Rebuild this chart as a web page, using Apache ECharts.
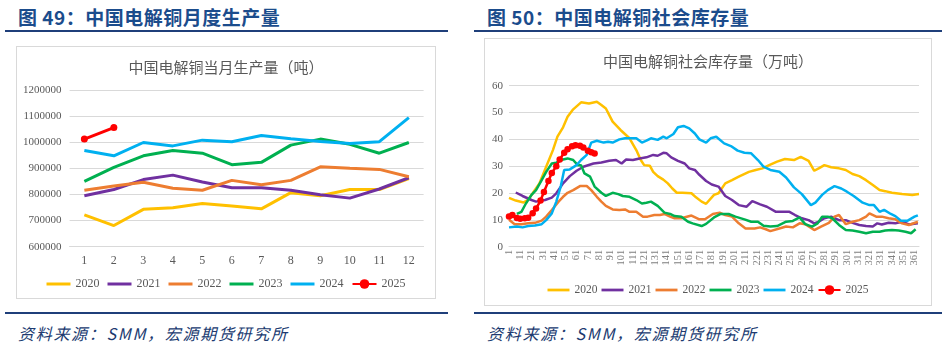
<!DOCTYPE html>
<html><head><meta charset="utf-8">
<script src="https://cdn.jsdelivr.net/npm/echarts@6/dist/echarts.min.js"></script>
<style>
html,body{margin:0;padding:0;background:#fff;width:948px;height:345px;overflow:hidden;position:relative;}
.hdr{position:absolute;top:3px;font-family:"Noto Sans CJK SC";font-weight:bold;font-size:19px;letter-spacing:0.5px;color:#1B4C8C;white-space:nowrap;}
.rule{position:absolute;height:2px;background:#1F3F7A;}
.src{position:absolute;top:321px;font-family:"Noto Sans CJK SC";font-style:italic;font-size:16px;color:#203A70;white-space:nowrap;letter-spacing:1.7px;}
.box{position:absolute;border:1px solid #D9D9D9;}
</style>
</head><body>
<div class="hdr" style="left:18px;">图 49：中国电解铜月度生产量</div>
<div class="hdr" style="left:487px;">图 50：中国电解铜社会库存量</div>
<div class="rule" style="left:5px;width:443px;top:30px;"></div>
<div class="rule" style="left:474px;width:468px;top:30px;"></div>
<div class="rule" style="left:5px;width:443px;top:312px;"></div>
<div class="rule" style="left:474px;width:468px;top:312px;"></div>
<div class="src" style="left:18px;">资料来源：SMM，宏源期货研究所</div>
<div class="src" style="left:487px;">资料来源：SMM，宏源期货研究所</div>
<div id="c1" class="box" style="left:16px;top:46px;width:418px;height:251px;"></div>
<div id="c2" class="box" style="left:484px;top:38px;width:446px;height:266px;"></div>
<script>
// ---------- Chart 1 data: monthly output (tonnes) ----------
const months = ['1','2','3','4','5','6','7','8','9','10','11','12'];
const out2020 = [722000,681000,743000,749000,765000,756000,745000,807000,795000,819000,819000,861000];
const out2021 = [795000,819000,857000,874000,848000,826000,826000,816000,799000,786000,821000,864000];
const out2022 = [816000,832000,847000,824000,816000,854000,837000,854000,906000,900000,896000,868000];
const out2023 = [850000,904000,948000,968000,958000,914000,923000,989000,1012000,992000,958000,999000];
const out2024 = [968000,948000,999000,986000,1008000,1002000,1026000,1013000,1003000,995000,1002000,1094000];
const out2025 = [1012000,1056000];
const yearNames = ['2020','2021','2022','2023','2024','2025'];
const yearColors = ['#FFC000','#7030A0','#ED7D31','#00B050','#00B0F0','#FF0000'];

// ---------- Chart 2 data: social inventory (10k tonnes), [day, value] ----------
const dayLabels = Array.from({length:365}, (_, i) => String(i + 1));
const inv2020 = [[1,18.2],[7,17.2],[14,16.5],[18,17.5],[22,19.9],[28,23.6],[34,29.8],[40,36],[44,41],[49,44.5],[53,48.4],[58,51.2],[65,53.8],[72,53.4],[79,54],[83,52.8],[87,51.5],[93,46.6],[100,43.5],[108,40.4],[114,36],[118,32.3],[121,30.4],[126,30.2],[129,27.9],[133,26.3],[138,25],[142,23.6],[146,21.7],[150,20.1],[155,20.1],[163,19.9],[167,18.4],[172,16.8],[176,16.0],[183,19.3],[187,19.9],[193,23.6],[199,24.8],[205,26.1],[214,27.9],[220,28.6],[226,29.2],[232,30.4],[239,31.7],[246,32.7],[254,32.3],[260,33.5],[267,32],[272,28.3],[276,29.2],[281,30.4],[287,29.6],[294,29.2],[300,28.6],[306,27.1],[312,26.3],[318,24.8],[324,23],[330,21.1],[335,20.7],[341,20.1],[350,19.6],[359,19.3],[365,19.6]];
const inv2021 = [[7,20.2],[13,18.9],[21,17.4],[25,16.8],[33,17.4],[39,18.3],[43,19.9],[49,23.6],[55,26.3],[61,28.3],[67,29.8],[76,31],[83,31.4],[90,32],[96,32.3],[101,31],[105,32.5],[111,32.3],[117,32.9],[123,33.3],[129,34.2],[133,33.9],[138,35],[141,34.8],[145,33.3],[151,32],[157,31],[161,29.2],[166,28.6],[170,26.8],[176,24.5],[181,23.2],[187,22.4],[193,18.9],[199,17.4],[205,15.5],[212,14.9],[217,17],[224,15.8],[230,14.9],[238,13],[244,13],[250,13],[255,11.8],[261,10.6],[267,9.9],[272,8.7],[276,9.3],[281,10.6],[287,11.2],[294,9.9],[300,9.9],[306,8.9],[312,8.1],[318,7.7],[324,7.5],[328,8.7],[332,8.3],[338,8.9],[344,8.7],[350,9.3],[356,8.3],[364,8.7]];
const inv2022 = [[1,10],[6,8.4],[12,8.4],[18,8.7],[24,8.9],[30,9.7],[34,11.2],[39,13.7],[45,16.8],[49,18.6],[53,20.1],[58,21.1],[64,22.6],[70,22.6],[74,21.1],[79,18.6],[83,16.8],[87,15.2],[93,13.9],[99,13.7],[104,13.9],[108,13],[114,13],[120,11.2],[124,11.2],[130,11.8],[135,11.8],[139,12.2],[144,11.2],[148,10.6],[154,10.6],[163,11.6],[170,10.2],[175,10.2],[182,12.2],[188,12.7],[193,11.8],[199,11.2],[205,8.7],[211,6.8],[219,6.8],[224,7.2],[229,6.5],[233,5.8],[241,6.8],[247,7.5],[253,7.2],[259,8.7],[264,8.4],[272,6.2],[278,7.5],[285,8.9],[290,11.2],[294,11.8],[300,8.4],[306,9.3],[312,9.9],[318,11.2],[321,12.4],[327,11.2],[332,11.2],[338,10.6],[344,10.2],[350,8.7],[356,8.1],[364,9.3]];
const inv2023 = [[8,12.2],[12,13],[16,16.1],[21,19.3],[25,21.1],[30,24.8],[34,27.9],[39,31],[43,31.3],[49,32.5],[53,32.9],[58,32.3],[62,30.4],[65,30.4],[68,27.3],[73,26.1],[77,22.4],[83,20.1],[87,18.9],[93,20.1],[98,19.6],[102,18.9],[108,18.6],[114,17.4],[119,16.1],[123,16.4],[127,16.8],[133,15.2],[139,12.7],[144,12.2],[148,11.4],[154,11.2],[160,9.3],[164,8.7],[172,7.7],[176,8.5],[183,10.9],[189,12.2],[196,12.2],[202,11.2],[210,10.2],[216,9.3],[222,9.3],[227,7.8],[233,7.5],[239,7.7],[247,9.3],[253,9.6],[259,10.9],[264,8.4],[270,7.5],[275,8.7],[279,11.2],[284,11.2],[288,10.6],[294,8.1],[300,6.2],[306,6],[312,5.6],[318,5],[324,5.6],[330,5.6],[335,6],[341,6.2],[347,6],[353,5.6],[358,5],[362,6.5]];
const inv2024 = [[1,7.2],[8,7.5],[13,7.2],[18,7.7],[24,7.9],[30,8.4],[34,9.9],[39,12.4],[43,16.8],[47,22.6],[50,28.6],[55,28.8],[61,30.4],[65,32.3],[70,34.2],[74,38.8],[79,39.5],[85,38.8],[89,39.1],[93,38.8],[99,40],[104,40.4],[108,40.4],[114,40.4],[119,38.8],[123,39.5],[127,40.4],[133,39.8],[138,41],[141,40.4],[147,42],[151,44.5],[156,45],[161,44.1],[166,42.2],[170,40],[176,38.8],[180,40.4],[185,41],[192,38.5],[198,37.5],[204,35.8],[210,35],[216,34.8],[222,32.3],[227,29.8],[233,28.6],[241,27.9],[247,25.8],[254,22.1],[261,19.6],[269,15.5],[273,16.4],[279,19.3],[284,21.1],[290,22.6],[296,21.7],[301,20.5],[307,18.9],[315,16.4],[321,15.5],[325,15.5],[330,13],[334,13.7],[340,12.2],[344,11.4],[349,9.7],[355,9.7],[361,11.2],[364,11.7]];
const inv2025 = [[1,11.3],[4,11.8],[8,10.7],[11,10.4],[15,10.6],[18,10.8],[22,12.5],[25,14.2],[29,17.2],[32,20.4],[36,24.5],[39,27.5],[43,30],[46,32.5],[50,35],[53,36.3],[57,37.4],[60,37.8],[64,37.6],[67,37],[71,35.8],[74,35.2],[77,34.7]];

const serif = 'Liberation Serif';
const labelGray = '#595959';
const gridGray = '#D9D9D9';
const barIcon = 'path://M0,0H24V3H0Z';

function legendItems() {
  return yearNames.map((n, i) => i === 5 ? {name:n} : {name:n, icon:barIcon});
}

// ---------- Chart 1 ----------
const c1 = echarts.init(document.getElementById('c1'), null, {renderer:'canvas'});
const outSeries = [out2020,out2021,out2022,out2023,out2024,out2025];
c1.setOption({
  animation:false,
  title:{text:'中国电解铜当月生产量（吨）', left:'center', top:8,
    textStyle:{fontFamily:'Noto Sans CJK SC', fontSize:15, fontWeight:'normal', color:'#595959'}},
  legend:{data:legendItems(), left:'center', top:226, itemWidth:24, itemHeight:12, itemGap:8,
    textStyle:{fontFamily:serif, fontSize:12, color:labelGray}},
  grid:{left:52.6, right:11.4, top:43, bottom:51.3},
  xAxis:{type:'category', data:months, boundaryGap:true,
    axisLine:{lineStyle:{color:gridGray}}, axisTick:{show:false},
    axisLabel:{fontFamily:serif, fontSize:12, color:labelGray, margin:8}},
  yAxis:{type:'value', min:600000, max:1200000, interval:100000,
    axisLine:{show:false}, axisTick:{show:false},
    splitLine:{lineStyle:{color:gridGray, width:1}},
    axisLabel:{fontFamily:serif, fontSize:11, color:labelGray, margin:8, formatter:v=>String(v)}},
  series: outSeries.map((d,i)=>({
    name:yearNames[i], type:'line', data:d,
    symbol: i===5 ? 'circle' : 'none', symbolSize:7, showSymbol: i===5,
    lineStyle:{width:3, color:yearColors[i]}, itemStyle:{color:yearColors[i]}
  }))
});

// ---------- Chart 2 ----------
const c2 = echarts.init(document.getElementById('c2'), null, {renderer:'canvas'});
const invSeries = [inv2020,inv2021,inv2022,inv2023,inv2024,inv2025];
c2.setOption({
  animation:false,
  title:{text:'中国电解铜社会库存量（万吨）', left:'center', top:10,
    textStyle:{fontFamily:'Noto Sans CJK SC', fontSize:15, fontWeight:'normal', color:'#595959'}},
  legend:{data:legendItems(), left:'center', top:240, itemWidth:22, itemHeight:12, itemGap:4,
    textStyle:{fontFamily:serif, fontSize:11.5, color:labelGray}},
  grid:{left:24, right:12, top:46.7, bottom:58.3},
  xAxis:{type:'category', data:dayLabels, boundaryGap:false,
    axisLine:{lineStyle:{color:gridGray}}, axisTick:{show:false},
    axisLabel:{fontFamily:serif, fontSize:10.5, color:'#7F7F7F', rotate:90, interval:9, margin:3}},
  yAxis:{type:'value', min:0, max:60, interval:10,
    axisLine:{show:false}, axisTick:{show:false},
    splitLine:{lineStyle:{color:gridGray, width:1}},
    axisLabel:{fontFamily:serif, fontSize:11, color:labelGray, margin:6}},
  series: invSeries.map((d,i)=>({
    name:yearNames[i], type:'line', data:d.map(p=>[p[0]-1, p[1]]),
    symbol: i===5 ? 'circle' : 'none', symbolSize:6.5, showSymbol: i===5, showAllSymbol: true,
    lineStyle:{width:2.5, color:yearColors[i]}, itemStyle:{color:yearColors[i]}
  }))
});
</script>
</body></html>
